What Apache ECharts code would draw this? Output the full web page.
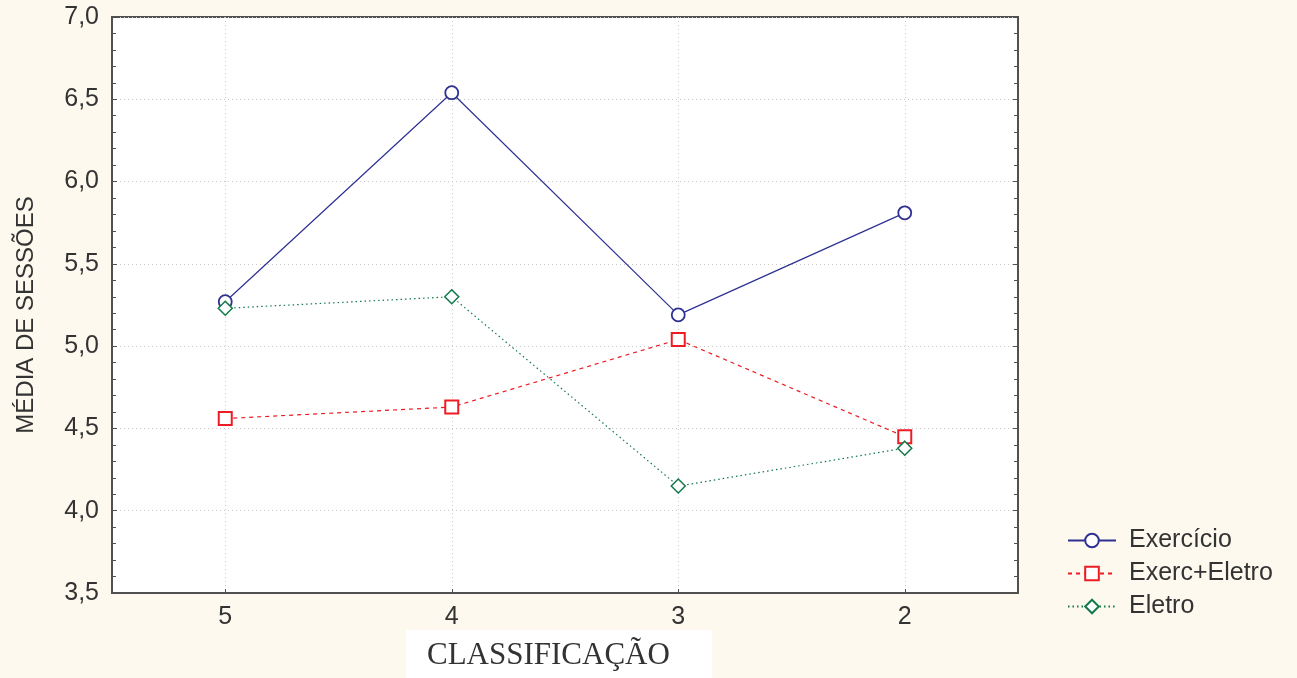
<!DOCTYPE html>
<html>
<head>
<meta charset="utf-8">
<script src="https://cdn.jsdelivr.net/npm/echarts@6/dist/echarts.min.js"></script>
<style>
  html, body { margin: 0; padding: 0; background: #fdf9ee; }
  #chart { width: 1297px; height: 678px; }
</style>
</head>
<body>
<div id="chart"></div>
<script>
  // categorias (classificação) e médias
  var categories = [5, 4, 3, 2];
  var exercicio = [5.27, 6.54, 5.19, 5.81];
  var exercEletro = [4.56, 4.63, 5.04, 4.45];
  var eletro = [5.23, 5.30, 4.15, 4.38];
  var yTicks = [3.5, 4.0, 4.5, 5.0, 5.5, 6.0, 6.5, 7.0];

  function pairs(vals) {
    return categories.map(function (c, i) { return [c, vals[i]]; });
  }

  var chart = echarts.init(document.getElementById('chart'));

  var fmtY = function (v) { return v.toFixed(1).replace('.', ','); };
  var gridLine = { show: true, lineStyle: { color: '#c9c9c9', type: [1, 3], width: 1 } };
  var frame = { show: true, lineStyle: { color: '#505050', width: 2 } };
  var sans = 'Liberation Sans, Arial';

  chart.setOption({
    backgroundColor: '#fdf9ee',
    animation: false,
    title: {
      text: 'CLASSIFICAÇÃO',
      left: 406,
      top: 630,
      padding: [10, 42, 14, 21],
      backgroundColor: '#ffffff',
      textStyle: {
        fontFamily: 'Liberation Serif, Times New Roman, serif',
        fontWeight: 'normal',
        fontSize: 31,
        color: '#333'
      }
    },
    legend: {
      orient: 'vertical',
      left: 1062,
      top: 523,
      itemWidth: 48,
      itemHeight: 17,
      itemGap: 8,
      textStyle: { fontFamily: sans, fontSize: 25, color: '#333', padding: [0, 0, 0, 8] },
      data: ['Exercício', 'Exerc+Eletro', 'Eletro']
    },
    grid: {
      left: 112, top: 17, width: 906, height: 576,
      containLabel: false,
      outerBoundsMode: 'none',
      show: true, backgroundColor: '#ffffff',
      borderColor: '#505050', borderWidth: 2
    },
    xAxis: {
      type: 'value',
      inverse: true,
      min: 1.5,
      max: 5.5,
      splitNumber: 4,
      axisLine: frame,
      axisTick: { show: true, inside: true, length: 4, lineStyle: { color: '#505050' } },
      axisLabel: {
        margin: 12,
        fontFamily: sans, fontSize: 25, color: '#333',
        showMinLabel: false, showMaxLabel: false,
        formatter: function (v) { return v % 1 === 0 ? String(v) : ''; }
      },
      splitLine: gridLine
    },
    yAxis: [{
      type: 'value',
      min: yTicks[0],
      max: yTicks[yTicks.length - 1],
      interval: 0.5,
      name: 'MÉDIA DE SESSÕES',
      nameLocation: 'middle',
      nameGap: 74,
      nameTextStyle: { fontFamily: sans, fontSize: 24, color: '#333', padding: [0, 20, 0, 0] },
      axisLine: frame,
      axisTick: { show: true, inside: true, length: 5, lineStyle: { color: '#505050' } },
      minorTick: { show: true, splitNumber: 5, length: 4, lineStyle: { color: '#505050' } },
      axisLabel: {
        margin: 13,
        fontFamily: sans, fontSize: 25, color: '#333',
        formatter: fmtY
      },
      splitLine: gridLine
    }, {
      type: 'value',
      position: 'right',
      min: yTicks[0],
      max: yTicks[yTicks.length - 1],
      interval: 0.5,
      axisLine: frame,
      axisTick: { show: true, inside: true, length: 5, lineStyle: { color: '#505050' } },
      minorTick: { show: true, splitNumber: 5, length: 4, lineStyle: { color: '#505050' } },
      axisLabel: { show: false },
      splitLine: { show: false }
    }],
    series: [{
      name: 'Exercício',
      type: 'line',
      data: pairs(exercicio),
      symbol: 'circle',
      symbolSize: 13,
      lineStyle: { color: '#2e3192', width: 1.2, type: 'solid' },
      itemStyle: { color: '#ffffff', borderColor: '#2e3192', borderWidth: 1.8 }
    }, {
      name: 'Exerc+Eletro',
      type: 'line',
      data: pairs(exercEletro),
      symbol: 'rect',
      symbolSize: 13,
      lineStyle: { color: '#ed1c24', width: 1.2, type: [4, 4] },
      itemStyle: { color: '#ffffff', borderColor: '#ed1c24', borderWidth: 2 }
    }, {
      name: 'Eletro',
      type: 'line',
      data: pairs(eletro),
      symbol: 'diamond',
      symbolSize: 14,
      lineStyle: { color: '#127a4a', width: 1.2, type: [1.5, 3] },
      itemStyle: { color: '#ffffff', borderColor: '#127a4a', borderWidth: 1.5 }
    }]
  });
</script>
</body>
</html>
